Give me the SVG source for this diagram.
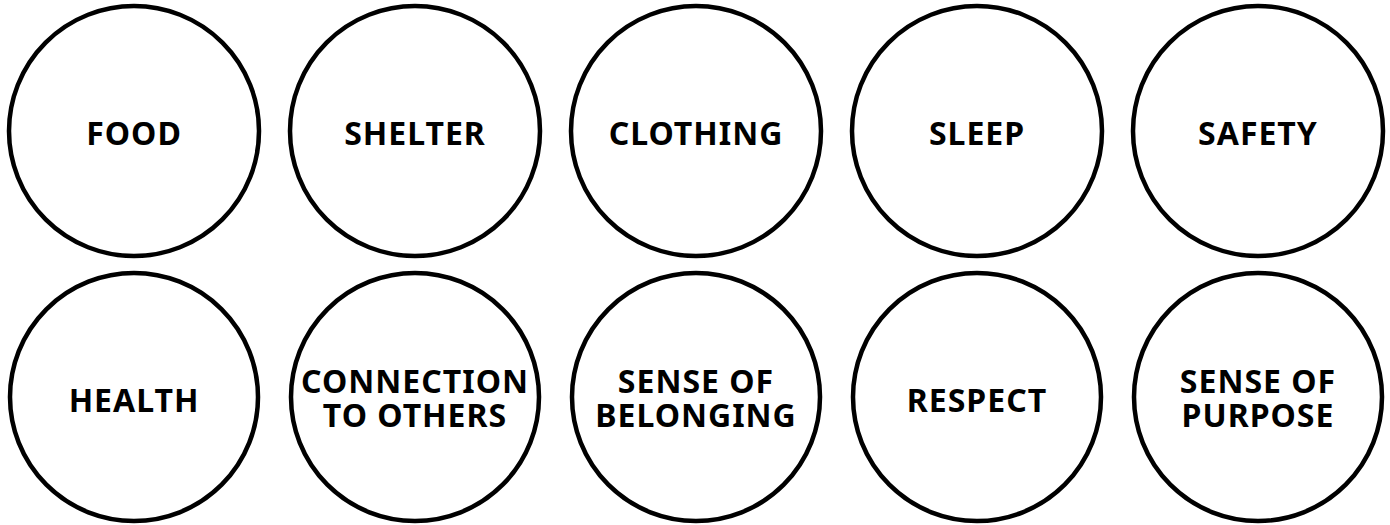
<svg xmlns="http://www.w3.org/2000/svg" width="1390" height="525" viewBox="0 0 1390 525">
<style>
.c{fill:#fff;stroke:#000;stroke-width:4.5}
.t{font-family:"Noto Sans","DejaVu Sans",sans-serif;font-weight:700;font-size:32px;fill:#000;text-anchor:middle;letter-spacing:1px}
</style>
<rect width="1390" height="525" fill="#fff"/>
<g id="food"><circle class="c" cx="134" cy="131" r="125"/><text class="t" x="134" y="145">FOOD</text></g>
<g id="shelter"><circle class="c" cx="415" cy="131" r="125"/><text class="t" x="415" y="145">SHELTER</text></g>
<g id="clothing"><circle class="c" cx="696" cy="131" r="125"/><text class="t" x="696" y="145">CLOTHING</text></g>
<g id="sleep"><circle class="c" cx="977" cy="131" r="125"/><text class="t" x="977" y="145">SLEEP</text></g>
<g id="safety"><circle class="c" cx="1258" cy="131" r="125"/><text class="t" x="1258" y="145">SAFETY</text></g>
<g id="health"><circle class="c" cx="134" cy="397" r="124"/><text class="t" x="134" y="412">HEALTH</text></g>
<g id="connection"><circle class="c" cx="415" cy="397" r="124"/><text class="t" x="415" y="393">CONNECTION</text><text class="t" x="415" y="427">TO OTHERS</text></g>
<g id="belonging"><circle class="c" cx="696" cy="397" r="124"/><text class="t" x="696" y="393">SENSE OF</text><text class="t" x="696" y="427">BELONGING</text></g>
<g id="respect"><circle class="c" cx="977" cy="397" r="124"/><text class="t" x="977" y="412">RESPECT</text></g>
<g id="purpose"><circle class="c" cx="1258" cy="397" r="124"/><text class="t" x="1258" y="393">SENSE OF</text><text class="t" x="1258" y="427">PURPOSE</text></g>
<g id="connectors"/>
</svg>
